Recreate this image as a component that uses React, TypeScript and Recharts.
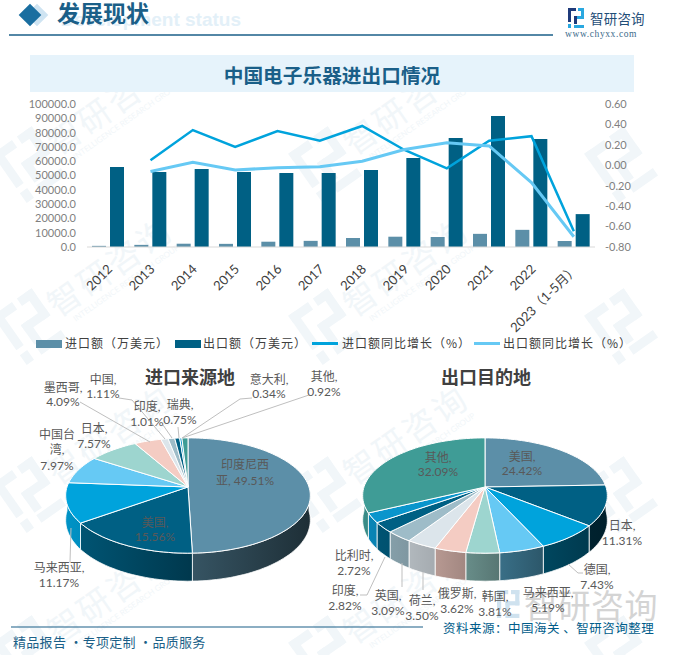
import React from "react";
import { Bar, ComposedChart, Legend, Line, Pie, PieChart, XAxis, YAxis } from "recharts";

const years = ["2012", "2013", "2014", "2015", "2016", "2017", "2018", "2019", "2020", "2021", "2022", "2023（1-5月）"];
const importValues = [800, 1500, 2300, 2200, 3700, 4300, 6300, 7200, 7000, 9200, 12000, 4200];
const exportValues = [55900, 52400, 54500, 52400, 51700, 51700, 53800, 62200, 76200, 91600, 75500, 23000];
const importGrowth = [null, 0.05, 0.345, 0.18, 0.335, 0.24, 0.385, 0.15, -0.03, 0.24, 0.285, -0.645];
const exportGrowth = [null, -0.06, 0.03, -0.045, -0.025, -0.015, 0.04, 0.155, 0.22, 0.19, -0.17, -0.7];
const leftTicks = [0, 10000, 20000, 30000, 40000, 50000, 60000, 70000, 80000, 90000, 100000];
const rightTicks = [-0.8, -0.6, -0.4, -0.2, 0, 0.2, 0.4, 0.6];
const seriesNames = ["进口额（万美元）", "出口额（万美元）", "进口额同比增长（%）", "出口额同比增长（%）"];

const importNames = ["印度尼西亚", "美国", "马来西亚", "中国台湾", "日本", "墨西哥", "中国", "印度", "瑞典", "意大利", "其他"];
const importShares = [49.51, 15.56, 11.17, 7.97, 7.57, 4.09, 1.11, 1.01, 0.75, 0.34, 0.92];
const exportNames = ["美国", "日本", "德国", "马来西亚", "韩国", "俄罗斯", "荷兰", "英国", "印度", "比利时", "其他"];
const exportShares = [24.42, 11.31, 7.43, 5.19, 3.81, 3.62, 3.5, 3.09, 2.82, 2.72, 32.09];

const palette = ["#5c8fa8", "#006084", "#00a3dc", "#66c9f4", "#9dd5cf", "#f4ccc3", "#dce5eb", "#9ebcc8", "#006084", "#0a95cc", "#3f9c96"];

const barData = years.map((year, i) => ({
  year,
  importValue: importValues[i],
  exportValue: exportValues[i],
  importGrowth: importGrowth[i],
  exportGrowth: exportGrowth[i],
}));
const importData = importNames.map((name, i) => ({ name, value: importShares[i], fill: palette[i] }));
const exportData = exportNames.map((name, i) => ({ name, value: exportShares[i], fill: palette[i] }));

const latin = "Lato, 'Noto Sans CJK SC', sans-serif";
const cjk = "'Noto Sans CJK SC', sans-serif";

// label layout: centre of each text line, leader line points
const importLabels = [
  { x: 245, y: [464, 480], lines: ["印度尼西", "亚, 49.51%"] },
  { x: 155, y: [522, 536], lines: ["美国,", "15.56%"] },
  { x: 59, y: [567, 582], lines: ["马来西亚,", "11.17%"], leader: "70,562 71,528" },
  { x: 57, y: [434, 449, 465], lines: ["中国台", "湾,", "7.97%"] },
  { x: 94, y: [428, 443], lines: ["日本,", "7.57%"] },
  { x: 63, y: [387, 401], lines: ["墨西哥,", "4.09%"], leader: "80,402 150,442" },
  { x: 103, y: [379, 393], lines: ["中国,", "1.11%"], leader: "119,398 132,400 165,439" },
  { x: 147, y: [406, 421], lines: ["印度,", "1.01%"], leader: "163,425 172,438" },
  { x: 180, y: [404, 419], lines: ["瑞典,", "0.75%"], leader: "178,427 179,438" },
  { x: 269, y: [379, 393], lines: ["意大利,", "0.34%"], leader: "252,398 240,399 182,438" },
  { x: 324, y: [376, 391], lines: ["其他,", "0.92%"], leader: "309,395 182,438" },
];
const exportLabels = [
  { x: 522, y: [456, 470], lines: ["美国,", "24.42%"] },
  { x: 622, y: [525, 540], lines: ["日本,", "11.31%"] },
  { x: 597, y: [569, 584], lines: ["德国,", "7.43%"], leader: "568,564 578,573 583,573" },
  { x: 548, y: [592, 607], lines: ["马来西亚,", "5.19%"] },
  { x: 495, y: [596, 611], lines: ["韩国,", "3.81%"] },
  { x: 457, y: [593, 608], lines: ["俄罗斯,", "3.62%"] },
  { x: 422, y: [600, 615], lines: ["荷兰,", "3.50%"], leader: "423,572 423,590" },
  { x: 388, y: [595, 610], lines: ["英国,", "3.09%"], leader: "402,563 402,587" },
  { x: 345, y: [590, 605], lines: ["印度,", "2.82%"], leader: "385,557 367,595 360,595" },
  { x: 354, y: [555, 570], lines: ["比利时,", "2.72%"] },
  { x: 438, y: [457, 471], lines: ["其他,", "32.09%"] },
];

const PERSPECTIVE = 0.148;
const FLATTEN = 0.466;

function project(cx: number, cy: number, r: number, deg: number) {
  const rad = (deg * Math.PI) / 180;
  const u = Math.cos(rad);
  const v = Math.sin(rad);
  const w = 1 + PERSPECTIVE * v;
  return { x: cx + (r * u) / w, y: cy - (r * FLATTEN * v) / w, v };
}

function sweep(from: number, to: number) {
  const n = Math.max(2, Math.ceil(Math.abs(from - to) / 2));
  return Array.from({ length: n + 1 }, (_, i) => from + ((to - from) * i) / n);
}

function shade(hex: string, f: number) {
  const n = parseInt(hex.slice(1), 16);
  const c = [(n >> 16) & 255, (n >> 8) & 255, n & 255].map((x) => Math.round(x * f));
  return `rgb(${c[0]},${c[1]},${c[2]})`;
}

// side light: brightest on the left of the wall, darkest on the right
function wallLight(u: number) {
  const stops = [[-1, 0.9], [-0.3, 0.72], [0, 0.6], [0.4, 0.45], [1, 0.33]];
  for (let i = 1; i < stops.length; i++) {
    if (u <= stops[i][0]) {
      const t = (u - stops[i - 1][0]) / (stops[i][0] - stops[i - 1][0]);
      return stops[i - 1][1] + t * (stops[i][1] - stops[i - 1][1]);
    }
  }
  return 0.33;
}

function TiltedSector(props: any) {
  const { cx, cy, outerRadius, startAngle, endAngle, fill, index } = props;
  const rim = sweep(startAngle, endAngle).map((a) => project(cx, cy, outerRadius, a));
  const top = `M${cx},${cy} ` + rim.map((p) => `L${p.x.toFixed(1)},${p.y.toFixed(1)}`).join(" ") + " Z";
  const from = Math.min(startAngle, 0);
  const to = Math.max(endAngle, -180);
  let wall = null;
  if (from > to) {
    const front = sweep(from, to).map((a) => project(cx, cy, outerRadius, a));
    const lower = front.map((p) => ({ x: p.x, y: p.y + 24 - 4 * p.v })).reverse();
    const d = "M" + [...front, ...lower].map((p) => `${p.x.toFixed(1)},${p.y.toFixed(1)}`).join(" L") + " Z";
    const x1 = front[0].x;
    const x2 = front[front.length - 1].x;
    const id = `wall-${Math.round(cx)}-${index}`;
    wall = (
      <g>
        <defs>
          <linearGradient id={id} gradientUnits="userSpaceOnUse" x1={x1} y1={0} x2={x2} y2={0}>
            <stop offset="0" stopColor={shade(fill, wallLight((x1 - cx) / outerRadius))} />
            <stop offset="1" stopColor={shade(fill, wallLight((x2 - cx) / outerRadius))} />
          </linearGradient>
        </defs>
        <path d={d} fill={`url(#${id})`} stroke="#fff" strokeWidth={0.8} />
      </g>
    );
  }
  return (
    <g>
      {wall}
      <path d={top} fill={fill} stroke="#fff" strokeWidth={1} />
    </g>
  );
}

function pieLabel(layout: typeof importLabels) {
  return (props: any) => {
    const item: any = layout[props.index];
    return (
      <g>
        {item.leader && <polyline points={item.leader} fill="none" stroke="#bfbfbf" strokeWidth={1} />}
        {item.lines.map((line: string, i: number) => (
          <text key={line} x={item.x} y={item.y[i]} textAnchor="middle" dominantBaseline="central" fontSize={12} fill="#595959" fontFamily={latin}>
            {line}
          </text>
        ))}
      </g>
    );
  };
}

function YearTick({ x, y, payload }: any) {
  const tx = x + 5;
  const ty = y + 15;
  return (
    <text x={tx} y={ty} textAnchor="end" fontSize={13} fill="#404040" fontFamily={latin} transform={`rotate(-45 ${tx} ${ty})`}>
      {payload.value}
    </text>
  );
}

const legendSlots = [
  { swatch: 36, text: 65 },
  { swatch: 175, text: 203 },
  { swatch: 312, text: 342 },
  { swatch: 474, text: 503 },
];

function ChartLegend({ payload }: any) {
  const ordered = seriesNames.map((name) => (payload || []).find((entry: any) => entry.value === name)).filter(Boolean);
  return (
    <div style={{ position: "relative", height: 0 }}>
      {ordered.map((entry: any, i: number) => {
        const isLine = entry.type === "line";
        return (
          <React.Fragment key={entry.value}>
            <div style={{ position: "absolute", left: legendSlots[i].swatch, top: isLine ? 8 : 6, width: 26, height: isLine ? 3 : 8, background: entry.color }} />
            <div style={{ position: "absolute", left: legendSlots[i].text, top: 0, fontFamily: cjk, fontSize: 12, letterSpacing: 1, lineHeight: "18px", color: "#404040", whiteSpace: "nowrap" }}>
              {entry.value}
            </div>
          </React.Fragment>
        );
      })}
    </div>
  );
}

function BrandMark({ x, y, s, dark, light }: { x: number; y: number; s: number; dark: string; light: string }) {
  return (
    <g transform={`translate(${x} ${y}) scale(${s})`}>
      <rect x={0} y={0} width={8} height={3} fill={dark} />
      <rect x={0} y={0} width={3} height={14} fill={dark} />
      <rect x={0} y={16} width={3} height={4} fill={light} />
      <rect x={10} y={0} width={6} height={3} fill={light} />
      <rect x={13} y={0} width={3} height={11} fill={light} />
      <rect x={6} y={8} width={10} height={3} fill={light} />
      <rect x={6} y={8} width={3} height={8} fill={dark} />
      <rect x={6} y={17} width={10} height={3} fill={light} />
    </g>
  );
}

const markRows = [115, 277, 445, 604];
const markCols = [117, 413];

function Backdrop() {
  return (
    <svg width={674} height={655} style={{ position: "absolute", left: 0, top: 0 }}>
      {markRows.map((y) =>
        markCols.map((x) => (
          <g key={`${x}-${y}`} transform={`rotate(-35 ${x} ${y})`}>
            <text x={x} y={y} textAnchor="middle" fontSize={33} letterSpacing={3} fill="#f1f6f9" fontFamily={cjk}>智研咨询</text>
            <text x={x + 4} y={y + 13} textAnchor="middle" fontSize={8} fill="#f1f6f9" fontFamily={latin}>INTELLIGENCE RESEARCH GROUP</text>
          </g>
        ))
      )}
      {markRows.map((y) =>
        [28, 324, 620].map((x) => (
          <g key={`${x}-${y}`} transform={`rotate(-35 ${x} ${y + 48})`}>
            <BrandMark x={x - 24} y={y + 20} s={3} dark="#f1f6f9" light="#f1f6f9" />
          </g>
        ))
      )}
      <text x={241} y={26} textAnchor="end" fontSize={19} fontWeight={700} fill="#e3f0f8" fontFamily="'Liberation Sans', sans-serif">Development status</text>
      <rect x={29} y={7} width={16} height={16} fill="#cfe4f2" transform="rotate(45 37 15)" />
      <rect x={22} y={7} width={16} height={16} fill="#1a6ea0" transform="rotate(45 30 15)" />
      <text x={57} y={22} fontSize={23} fontWeight={700} fill="#1a5f88" fontFamily={cjk}>发展现状</text>
      <line x1={9} y1={35} x2={553} y2={35} stroke="#1a5f88" strokeWidth={1.5} />
      <BrandMark x={568} y={8} s={1} dark="#1f3a7a" light="#2aa8e0" />
      <text x={590} y={24} fontSize={13.5} letterSpacing={0.2} fill="#1f4e78" fontFamily={cjk}>智研咨询</text>
      <text x={565} y={37} fontSize={9.5} letterSpacing={0.6} fill="#3a6a8a" fontFamily="'Liberation Serif', serif">www.chyxx.com</text>
      <rect x={30} y={55} width={604} height={37} fill="#e6f3fb" />
      <text x={332} y={83} textAnchor="middle" fontSize={19.7} fontWeight={700} fill="#1a5f88" fontFamily={cjk}>中国电子乐器进出口情况</text>
      <text x={190} y={384} textAnchor="middle" fontSize={18} fontWeight={700} fill="#404040" fontFamily={cjk}>进口来源地</text>
      <text x={486} y={384} textAnchor="middle" fontSize={18} fontWeight={700} fill="#404040" fontFamily={cjk}>出口目的地</text>
      <BrandMark x={497} y={590} s={1.4} dark="#cfe2ef" light="#cfe2ef" />
      <text x={524} y={618} fontSize={33} letterSpacing={0.5} fill="#d4d4d4" fontFamily={cjk}>智研咨询</text>
      <line x1={11} y1={627} x2={423} y2={627} stroke="#1a5f88" strokeWidth={1.2} />
      <text x={13} y={647} fontSize={13} letterSpacing={0.3} fill="#1a5f88" fontFamily={cjk}>精品报告 ·专项定制 ·品质服务</text>
      <text x={443} y={633} fontSize={12.5} letterSpacing={0.5} fill="#005c8a" fontFamily={cjk}>资料来源：中国海关 、智研咨询整理</text>
    </svg>
  );
}

export default function App() {
  return (
    <div style={{ position: "absolute", left: 0, top: 0, width: 674, height: 655, overflow: "hidden", background: "#fff" }}>
      <Backdrop />
      <div style={{ position: "absolute", left: 0, top: 0 }}>
        <ComposedChart width={674} height={360} data={barData} margin={{ top: 104, right: 19, bottom: 13, left: 0 }} barSize={14} barGap={4}>
          <XAxis dataKey="year" interval={0} height={100} tickLine={false} axisLine={{ stroke: "#d9d9d9" }} tick={<YearTick />} />
          <YAxis
            yAxisId="left"
            width={87}
            domain={[0, 100000]}
            ticks={leftTicks}
            interval={0}
            axisLine={false}
            tickLine={false}
            tickFormatter={(v: number) => v.toFixed(1)}
            tick={{ fontSize: 11, fill: "#7f7f7f", fontFamily: latin, dx: -3 }}
          />
          <YAxis
            yAxisId="right"
            orientation="right"
            width={60}
            domain={[-0.8, 0.6]}
            ticks={rightTicks}
            interval={0}
            axisLine={false}
            tickLine={false}
            tickFormatter={(v: number) => v.toFixed(2)}
            tick={{ fontSize: 11, fill: "#7f7f7f", fontFamily: latin, dx: 2 }}
          />
          <Legend content={<ChartLegend />} wrapperStyle={{ left: 0, top: 334, width: 674, height: 0 }} />
          <Bar yAxisId="left" dataKey="importValue" name={seriesNames[0]} fill="#5c8fa8" isAnimationActive={false} />
          <Bar yAxisId="left" dataKey="exportValue" name={seriesNames[1]} fill="#006084" isAnimationActive={false} />
          <Line yAxisId="right" dataKey="importGrowth" name={seriesNames[2]} stroke="#00a3dc" strokeWidth={2.5} dot={false} isAnimationActive={false} />
          <Line yAxisId="right" dataKey="exportGrowth" name={seriesNames[3]} stroke="#66c9f4" strokeWidth={3} dot={false} isAnimationActive={false} />
        </ComposedChart>
      </div>
      <div style={{ position: "absolute", left: 0, top: 0 }}>
        <PieChart width={674} height={655} margin={{ top: 0, right: 0, bottom: 0, left: 0 }}>
          <Pie data={importData} dataKey="value" nameKey="name" cx={188} cy={487} outerRadius={121} startAngle={90} endAngle={-270} shape={<TiltedSector />} label={pieLabel(importLabels)} labelLine={false} isAnimationActive={false} />
          <Pie data={exportData} dataKey="value" nameKey="name" cx={485} cy={487} outerRadius={121} startAngle={90} endAngle={-270} shape={<TiltedSector />} label={pieLabel(exportLabels)} labelLine={false} isAnimationActive={false} />
        </PieChart>
      </div>
    </div>
  );
}
